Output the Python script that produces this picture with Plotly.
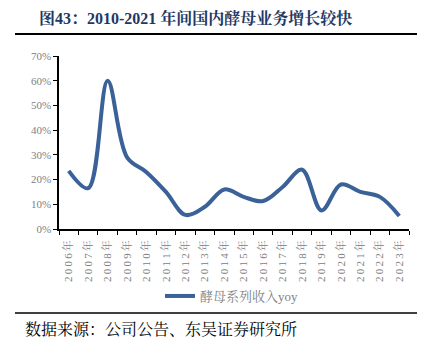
import plotly.graph_objects as go

years = ["2006年","2007年","2008年","2009年","2010年","2011年","2012年","2013年","2014年",
         "2015年","2016年","2017年","2018年","2019年","2020年","2021年","2022年","2023年"]
yoy = [0.235, 0.165, 0.60, 0.29, 0.23, 0.15, 0.057, 0.09, 0.16,
       0.13, 0.113, 0.17, 0.24, 0.075, 0.18, 0.15, 0.13, 0.053]
series_name = "酵母系列收入yoy"
title_text = "图43：2010-2021 年间国内酵母业务增长较快"
source_text = "数据来源：公司公告、东吴证券研究所"

W, H = 433, 351
L, R, T, B = 59, 409, 56, 229

def px(x):
    return (x - L) / (R - L)

def py(y):
    return (B - y) / (B - T)

spaced = ["\u2009".join(list(y)) for y in years]

fig = go.Figure()
fig.add_trace(go.Scatter(
    x=years, y=yoy, mode="lines", name=series_name,
    line=dict(color="#3A6298", width=4, shape="spline", smoothing=1.0),
))

serif = "Liberation Serif, Noto Serif CJK SC, Noto Sans CJK SC, serif"

fig.update_layout(
    width=W, height=H,
    margin=dict(l=L, r=W - R, t=T, b=H - B),
    paper_bgcolor="white", plot_bgcolor="white",
    showlegend=True,
    legend=dict(orientation="h", x=px(160), y=py(296), xanchor="left", yanchor="middle",
                font=dict(family=serif, size=13, color="#7f7f7f"),
                itemwidth=30, bgcolor="rgba(0,0,0,0)"),
    xaxis=dict(type="category", tickson="boundaries", showgrid=False,
               tickvals=years, ticktext=spaced, ticklabelstandoff=5,
               showline=True, linecolor="black", linewidth=1.5,
               ticks="outside", ticklen=4, tickcolor="black", tickwidth=1,
               tickangle=-90, tickfont=dict(family=serif, size=11, color="#808080"),
               range=[-0.5, 17.5]),
    yaxis=dict(range=[0, 0.70], dtick=0.1, tickformat=".0%", showgrid=False,
               showline=True, linecolor="black", linewidth=1.5,
               ticks="outside", ticklen=4, tickcolor="black", tickwidth=1,
               tickfont=dict(family=serif, size=11, color="#808080"), zeroline=False),
)

fig.add_annotation(x=px(37), y=py(18), xref="paper", yref="paper", xanchor="left", yanchor="middle",
                   text="<b>" + title_text + "</b>", showarrow=False,
                   font=dict(family=serif, size=16, color="#1F3864"))
fig.add_annotation(x=px(23), y=py(329), xref="paper", yref="paper", xanchor="left", yanchor="middle",
                   text=source_text, showarrow=False,
                   font=dict(family=serif, size=16, color="black"))
fig.add_shape(type="line", xref="paper", yref="paper", x0=px(15), x1=px(417), y0=py(34), y1=py(34),
              line=dict(color="black", width=2))
fig.add_shape(type="line", xref="paper", yref="paper", x0=px(15), x1=px(417), y0=py(313), y1=py(313),
              line=dict(color="black", width=1.5))

fig.write_html("out.html")
